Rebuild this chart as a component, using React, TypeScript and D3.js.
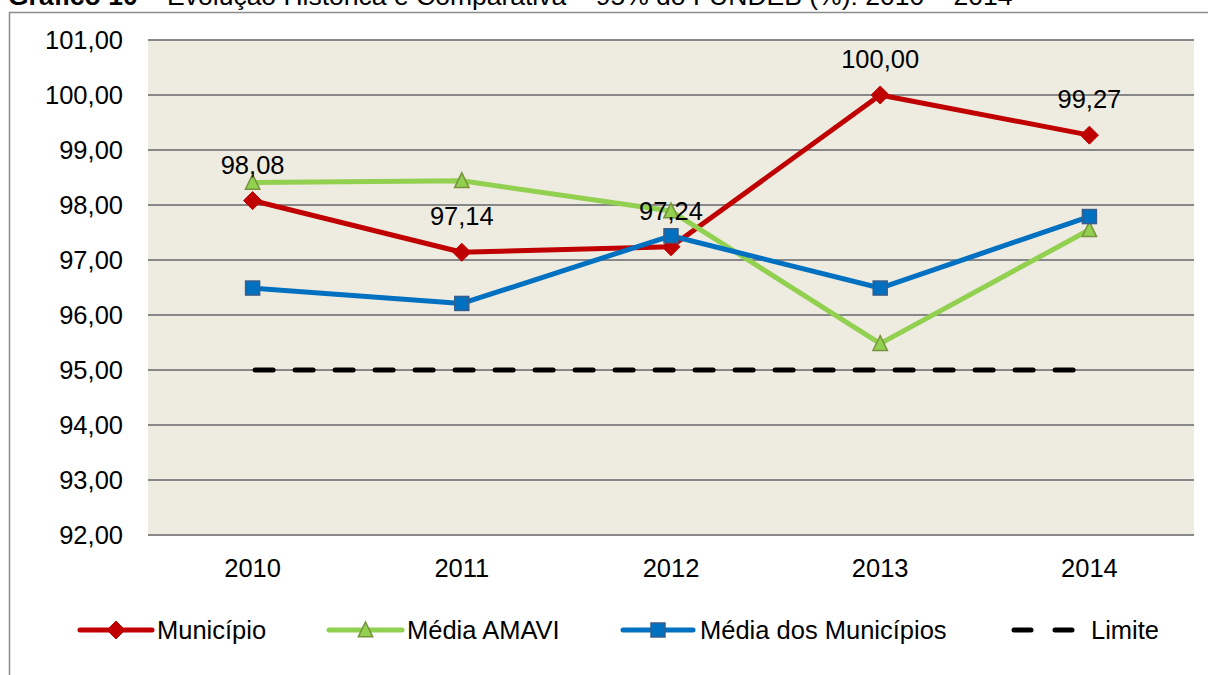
import React from "react";
import * as d3 from "d3";

const years = ["2010", "2011", "2012", "2013", "2014"];
const municipio = [98.08, 97.14, 97.24, 100.0, 99.27];
const mediaAmavi = [98.41, 98.44, 97.89, 95.48, 97.55];
const mediaMunicipios = [96.49, 96.21, 97.44, 96.49, 97.79];
const limite = [95, 95, 95, 95, 95];
const yTicks = [92, 93, 94, 95, 96, 97, 98, 99, 100, 101];
const legendLabels = ["Município", "Média AMAVI", "Média dos Municípios", "Limite"];
const titleBold = "Gráfico 10";
const titleRest = " – Evolução Histórica e Comparativa – 95% do FUNDEB (%): 2010 – 2014";

const W = 1208;
const H = 675;
const plot = { left: 148, right: 1194, top: 40, bottom: 535 };
const FONT = "Arial, 'Liberation Sans', sans-serif";
const FS = 25.5;

const RED = "#C00000";
const GREEN = "#92D050";
const BLUE = "#0070C0";

const ptLocale = d3.formatLocale({ decimal: ",", thousands: ".", grouping: [3], currency: ["R$", ""] });
const fmt = ptLocale.format(".2f");

function Diamond({ x, y, s = 9 }: { x: number; y: number; s?: number }) {
  return (
    <path
      d={`M${x},${y - s}L${x + s},${y}L${x},${y + s}L${x - s},${y}Z`}
      fill={RED}
      stroke={RED}
      strokeWidth={1}
    />
  );
}
function Triangle({ x, y, s = 8 }: { x: number; y: number; s?: number }) {
  return (
    <path
      d={`M${x},${y - s}L${x + s * 0.9},${y + s * 0.85}L${x - s * 0.9},${y + s * 0.85}Z`}
      fill={GREEN}
      stroke="#77933C"
      strokeWidth={1.5}
    />
  );
}
function Square({ x, y, s = 7 }: { x: number; y: number; s?: number }) {
  return (
    <rect x={x - s} y={y - s} width={2 * s} height={2 * s} fill={BLUE} stroke="#385D8A" strokeWidth={1.5} />
  );
}

export default function App() {
  const x = d3.scaleBand<string>().domain(years).range([plot.left, plot.right]);
  const cx = (yr: string) => (x(yr) ?? 0) + x.bandwidth() / 2;
  const y = d3.scaleLinear().domain([92, 101]).range([plot.bottom, plot.top]);

  const line = d3
    .line<number>()
    .x((_, i) => cx(years[i]))
    .y((v) => y(v));

  const legendItems = [
    { label: legendLabels[0], x0: 80, x1: 152, tx: 157, color: RED, kind: "d" },
    { label: legendLabels[1], x0: 329, x1: 402, tx: 407, color: GREEN, kind: "t" },
    { label: legendLabels[2], x0: 623, x1: 693, tx: 700, color: BLUE, kind: "s" },
    { label: legendLabels[3], x0: 1014, x1: 1075, tx: 1091, color: "#000", kind: "l" },
  ];
  const ly = 630;

  return (
    <svg
      width={W}
      height={H}
      style={{ position: "absolute", left: 0, top: 0, background: "#fff" }}
      fontFamily={FONT}
    >
      {/* title (cut) */}
      <text x={8} y={5} fontSize={26.5} fill="#000">
        <tspan fontWeight="bold">{titleBold}</tspan>
        <tspan>{titleRest}</tspan>
      </text>
      {/* outer frame */}
      <rect x={9.5} y={12.5} width={W + 20} height={H + 20} fill="none" stroke="#8C8C8C" strokeWidth={1.5} />

      {/* plot background */}
      <rect
        x={plot.left}
        y={plot.top}
        width={plot.right - plot.left}
        height={plot.bottom - plot.top}
        fill="#EEEBE1"
      />
      {/* gridlines */}
      {yTicks.map((t) => (
        <line key={t} x1={plot.left} x2={plot.right} y1={y(t)} y2={y(t)} stroke="#878787" strokeWidth={2} />
      ))}
      {/* y labels */}
      {yTicks.map((t) => (
        <text key={"l" + t} x={123} y={y(t) + 9.3} textAnchor="end" fontSize={FS} fill="#000">
          {fmt(t)}
        </text>
      ))}
      {/* x labels */}
      {years.map((yr) => (
        <text key={yr} x={cx(yr)} y={577} textAnchor="middle" fontSize={FS} fill="#000">
          {yr}
        </text>
      ))}

      {/* series */}
      <path d={line(municipio) ?? ""} fill="none" stroke={RED} strokeWidth={5} strokeLinejoin="round" />
      {municipio.map((v, i) => (
        <Diamond key={"m" + i} x={cx(years[i])} y={y(v)} />
      ))}
      <path d={line(mediaAmavi) ?? ""} fill="none" stroke={GREEN} strokeWidth={5} strokeLinejoin="round" />
      {mediaAmavi.map((v, i) => (
        <Triangle key={"a" + i} x={cx(years[i])} y={y(v)} />
      ))}
      <path d={line(mediaMunicipios) ?? ""} fill="none" stroke={BLUE} strokeWidth={5} strokeLinejoin="round" />
      {mediaMunicipios.map((v, i) => (
        <Square key={"b" + i} x={cx(years[i])} y={y(v)} />
      ))}
      <path
        d={line(limite) ?? ""}
        fill="none"
        stroke="#000"
        strokeWidth={5}
        strokeDasharray="18 22"
        strokeLinecap="round"
        transform="translate(2.5,0)"
      />

      {/* data labels */}
      {municipio.map((v, i) => (
        <text key={"dl" + i} x={cx(years[i])} y={y(v) - 27} textAnchor="middle" fontSize={FS} fill="#000">
          {fmt(v)}
        </text>
      ))}

      {/* legend */}
      {legendItems.map((it) => (
        <g key={it.label}>
          {it.kind === "l" ? (
            <line
              x1={it.x0}
              x2={it.x1}
              y1={ly}
              y2={ly}
              stroke="#000"
              strokeWidth={5}
              strokeLinecap="round"
              strokeDasharray="17 24"
            />
          ) : (
            <line x1={it.x0} x2={it.x1} y1={ly} y2={ly} stroke={it.color} strokeWidth={5} strokeLinecap="round" />
          )}
          {it.kind === "d" && <Diamond x={(it.x0 + it.x1) / 2} y={ly} />}
          {it.kind === "t" && <Triangle x={(it.x0 + it.x1) / 2} y={ly} />}
          {it.kind === "s" && <Square x={(it.x0 + it.x1) / 2} y={ly} />}
          <text x={it.tx} y={ly + 9} fontSize={FS} fill="#000">
            {it.label}
          </text>
        </g>
      ))}
    </svg>
  );
}
